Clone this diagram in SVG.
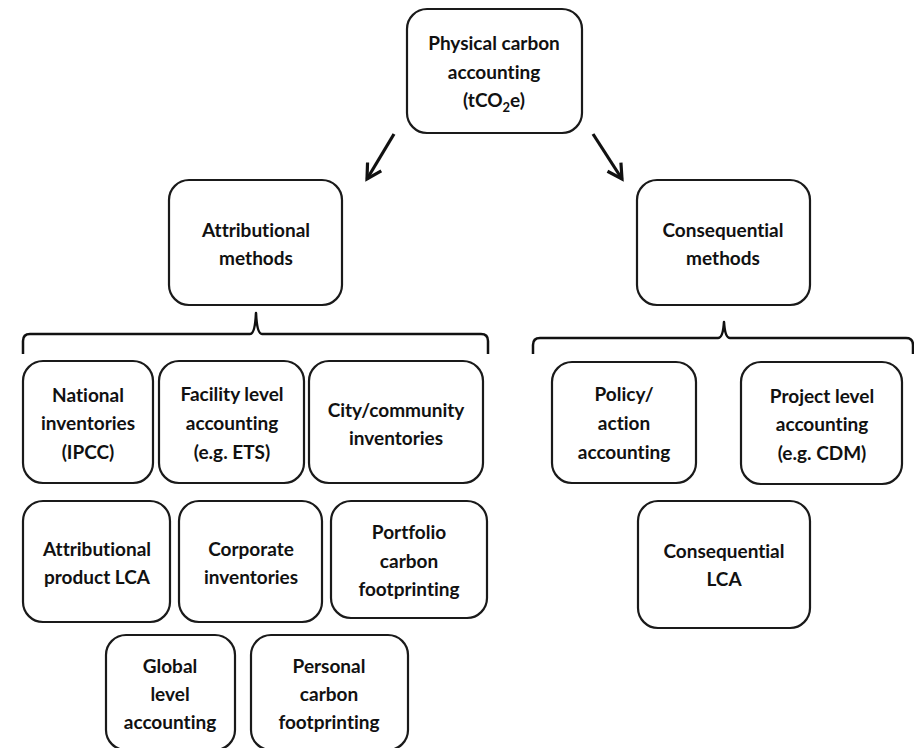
<svg xmlns="http://www.w3.org/2000/svg" width="914" height="748" viewBox="0 0 914 748">
<style>
.box{fill:#fff;stroke:#1a1a1a;stroke-width:2.2}
.t{font-family:Lato,"Liberation Sans",sans-serif;font-weight:bold;font-size:19px;fill:#111;text-anchor:middle;font-variant-ligatures:none}
.br{fill:none;stroke:#111;stroke-width:2.5;stroke-linejoin:round}
.ar{stroke:#111;stroke-width:3.2;fill:none}
</style>
<defs>
<marker id="ah" viewBox="0 0 12 12" refX="10" refY="6" markerWidth="6" markerHeight="6" markerUnits="strokeWidth" orient="auto">
<path d="M1,1 L10,6 L1,11" fill="none" stroke="#111" stroke-width="2"/>
</marker>
</defs>
<rect width="914" height="748" fill="#fff"/>
<g id="connectors">
<line class="ar" x1="394" y1="134" x2="367" y2="179" marker-end="url(#ah)"/>
<line class="ar" x1="593" y1="134" x2="622" y2="179" marker-end="url(#ah)"/>
<path class="br" d="M23,354 V341 Q23,334 30,334 H250 Q255,334 256,313 Q257,334 262,334 H481 Q488,334 488,341 V354"/>
<path class="br" d="M533,354 V345 Q533,338 540,338 H718 Q723,338 724,322 Q725,338 730,338 H906 Q913,338 913,345 V354"/>
</g>
<g id="top"><rect class="box" x="407" y="9" width="175" height="124" rx="20"/>
<text class="t" x="494" y="50">Physical carbon</text>
<text class="t" x="494" y="79">accounting</text>
<text class="t" x="494" y="107">(tCO<tspan font-size="13" dy="5">2</tspan><tspan dy="-5">e)</tspan></text></g>
<g id="attr"><rect class="box" x="169" y="180" width="173" height="125" rx="20"/>
<text class="t" x="256" y="237">Attributional</text>
<text class="t" x="256" y="265">methods</text></g>
<g id="conseq"><rect class="box" x="637" y="180" width="173" height="125" rx="20"/>
<text class="t" x="723" y="237">Consequential</text>
<text class="t" x="723" y="265">methods</text></g>
<g id="national"><rect class="box" x="23" y="361" width="130" height="122" rx="20"/>
<text class="t" x="88" y="402">National</text>
<text class="t" x="88" y="430">inventories</text>
<text class="t" x="88" y="459">(IPCC)</text></g>
<g id="facility"><rect class="box" x="159" y="361" width="145" height="122" rx="20"/>
<text class="t" x="232" y="401">Facility level</text>
<text class="t" x="232" y="430">accounting</text>
<text class="t" x="232" y="459">(e.g. ETS)</text></g>
<g id="city"><rect class="box" x="309" y="361" width="174" height="122" rx="20"/>
<text class="t" x="396" y="417">City/community</text>
<text class="t" x="396" y="445">inventories</text></g>
<g id="attrlca"><rect class="box" x="23" y="501" width="147" height="121" rx="20"/>
<text class="t" x="97" y="556">Attributional</text>
<text class="t" x="97" y="584">product LCA</text></g>
<g id="corporate"><rect class="box" x="179" y="501" width="143" height="121" rx="20"/>
<text class="t" x="251" y="556">Corporate</text>
<text class="t" x="251" y="584">inventories</text></g>
<g id="portfolio"><rect class="box" x="331" y="501" width="156" height="117" rx="20"/>
<text class="t" x="409" y="539">Portfolio</text>
<text class="t" x="409" y="568">carbon</text>
<text class="t" x="409" y="596">footprinting</text></g>
<g id="global"><rect class="box" x="106" y="635" width="129" height="115" rx="20"/>
<text class="t" x="170" y="673">Global</text>
<text class="t" x="170" y="701">level</text>
<text class="t" x="170" y="729">accounting</text></g>
<g id="personal"><rect class="box" x="251" y="635" width="157" height="115" rx="20"/>
<text class="t" x="329" y="673">Personal</text>
<text class="t" x="329" y="701">carbon</text>
<text class="t" x="329" y="729">footprinting</text></g>
<g id="policy"><rect class="box" x="552" y="362" width="144" height="121" rx="20"/>
<text class="t" x="624" y="401">Policy/</text>
<text class="t" x="624" y="430">action</text>
<text class="t" x="624" y="459">accounting</text></g>
<g id="project"><rect class="box" x="741" y="362" width="161" height="122" rx="20"/>
<text class="t" x="822" y="403">Project level</text>
<text class="t" x="822" y="431">accounting</text>
<text class="t" x="822" y="460">(e.g. CDM)</text></g>
<g id="conseqlca"><rect class="box" x="638" y="501" width="172" height="127" rx="20"/>
<text class="t" x="724" y="558">Consequential</text>
<text class="t" x="724" y="586">LCA</text></g>
</svg>
